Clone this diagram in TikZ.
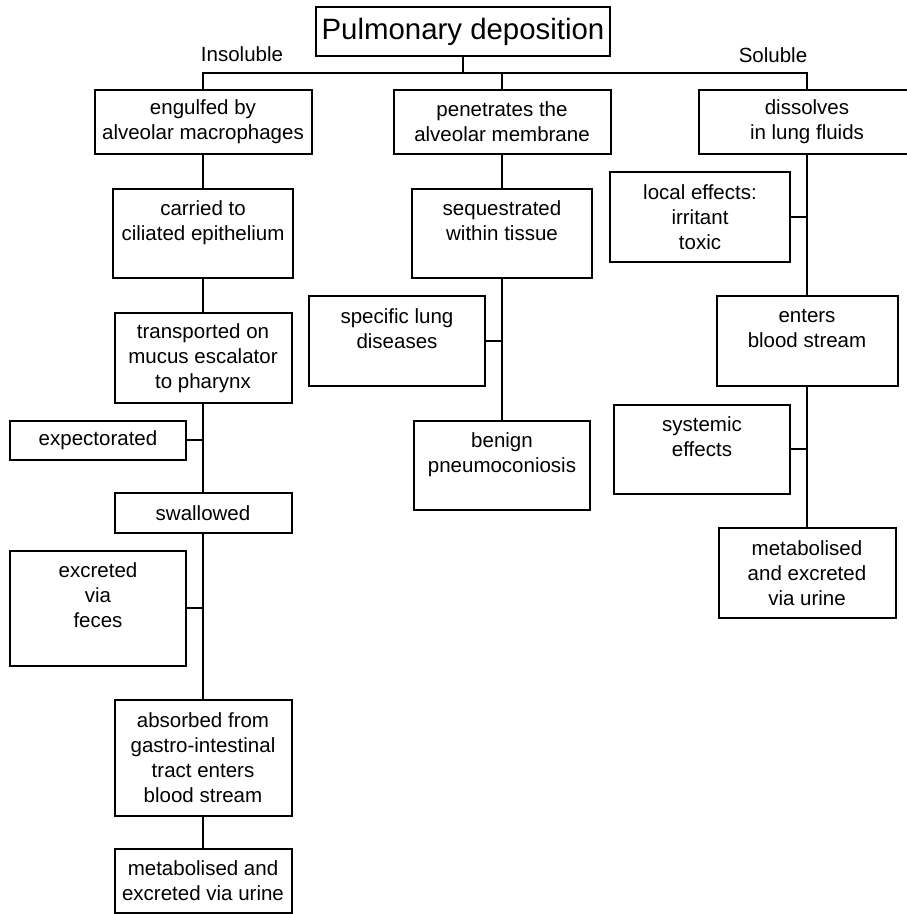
\documentclass[tikz,border=0pt]{standalone}
\usepackage{fontspec}
\setmainfont{Liberation Sans}
\begin{document}
\begin{tikzpicture}[x=1pt,y=-1pt,
  bx/.style={draw, line width=2pt, inner sep=0pt, align=center,
    font=\fontsize{20.5}{25}\selectfont},
  lbl/.style={inner sep=0pt, font=\fontsize{20.5}{25}\selectfont},
  ln/.style={line width=2pt}]
\useasboundingbox (0,0) rectangle (906,914);

% title
\node[bx, font=\fontsize{29.4}{34}\selectfont, minimum width=294pt, minimum height=49pt] (title) at (463,31.5) {Pulmonary deposition};
\node[lbl] (insol) at (242,54) {Insoluble};
\node[lbl] (sol) at (773,55) {Soluble};
\coordinate (hub) at (463,73);

% top row
\node[bx, minimum width=217pt, minimum height=64pt] (engulfed) at (203,122) {engulfed by\\alveolar macrophages};
\node[bx, minimum width=217pt, minimum height=64pt] (penetrates) at (502,122) {penetrates the\\alveolar membrane};
\node[bx, minimum width=217pt, minimum height=64pt] (dissolves) at (807,122) {dissolves\\in lung fluids};

% left column
\node[bx, minimum width=180pt, minimum height=89pt] (carried) at (203,233.5) {carried to\\ciliated epithelium\\\mbox{}};
\node[bx, minimum width=177pt, minimum height=90pt] (transported) at (203,358) {transported on\\mucus escalator\\to pharynx};
\node[bx, minimum width=176pt, minimum height=39pt] (expect) at (98,440) {expectorated};
\node[bx, minimum width=177pt, minimum height=40pt] (swallowed) at (203,513) {swallowed};
\node[bx, minimum width=176pt, minimum height=115pt] (excreted) at (98,608) {excreted\\via\\feces\\\mbox{}};
\node[bx, minimum width=177pt, minimum height=116pt] (absorbed) at (203,758) {absorbed from\\gastro-intestinal\\tract enters\\blood stream};
\node[bx, minimum width=177pt, minimum height=64pt] (metabL) at (203,881) {metabolised and\\excreted via urine};

% middle column
\node[bx, minimum width=180pt, minimum height=89pt] (seq) at (502,233.5) {sequestrated\\within tissue\\\mbox{}};
\node[bx, minimum width=176pt, minimum height=90pt] (specific) at (397,341) {specific lung\\diseases\\\mbox{}};
\node[bx, minimum width=176pt, minimum height=89pt] (benign) at (502,465.5) {benign\\pneumoconiosis\\\mbox{}};

% right column
\node[bx, minimum width=180pt, minimum height=90pt] (local) at (700,217) {local effects:\\irritant\\toxic};
\node[bx, minimum width=181pt, minimum height=90pt] (enters) at (807,341) {enters\\blood stream\\\mbox{}};
\node[bx, minimum width=176pt, minimum height=89pt] (systemic) at (702,449) {systemic\\effects\\\mbox{}};
\node[bx, minimum width=177pt, minimum height=90pt] (metabR) at (807,573) {metabolised\\and excreted\\via urine};

% connectors
\draw[ln] (title.south) -- (hub);
\draw[ln] (engulfed.north) |- (hub) -| (dissolves.north);
\draw[ln] (penetrates.north) -- (penetrates.north |- hub);

\draw[ln] (engulfed.south) -- (carried.north);
\draw[ln] (carried.south) -- (transported.north);
\draw[ln] (transported.south) -- (swallowed.north);
\draw[ln] (expect.east) -- (expect.east -| transported.south);
\draw[ln] (swallowed.south) -- (absorbed.north);
\draw[ln] (excreted.east) -- (excreted.east -| swallowed.south);
\draw[ln] (absorbed.south) -- (metabL.north);

\draw[ln] (penetrates.south) -- (seq.north);
\draw[ln] (seq.south) -- (benign.north);
\draw[ln] (specific.east) -- (specific.east -| seq.south);

\draw[ln] (dissolves.south) -- (enters.north);
\draw[ln] (local.east) -- (local.east -| dissolves.south);
\draw[ln] (enters.south) -- (metabR.north);
\draw[ln] (systemic.east) -- (systemic.east -| enters.south);
\end{tikzpicture}
\end{document}
